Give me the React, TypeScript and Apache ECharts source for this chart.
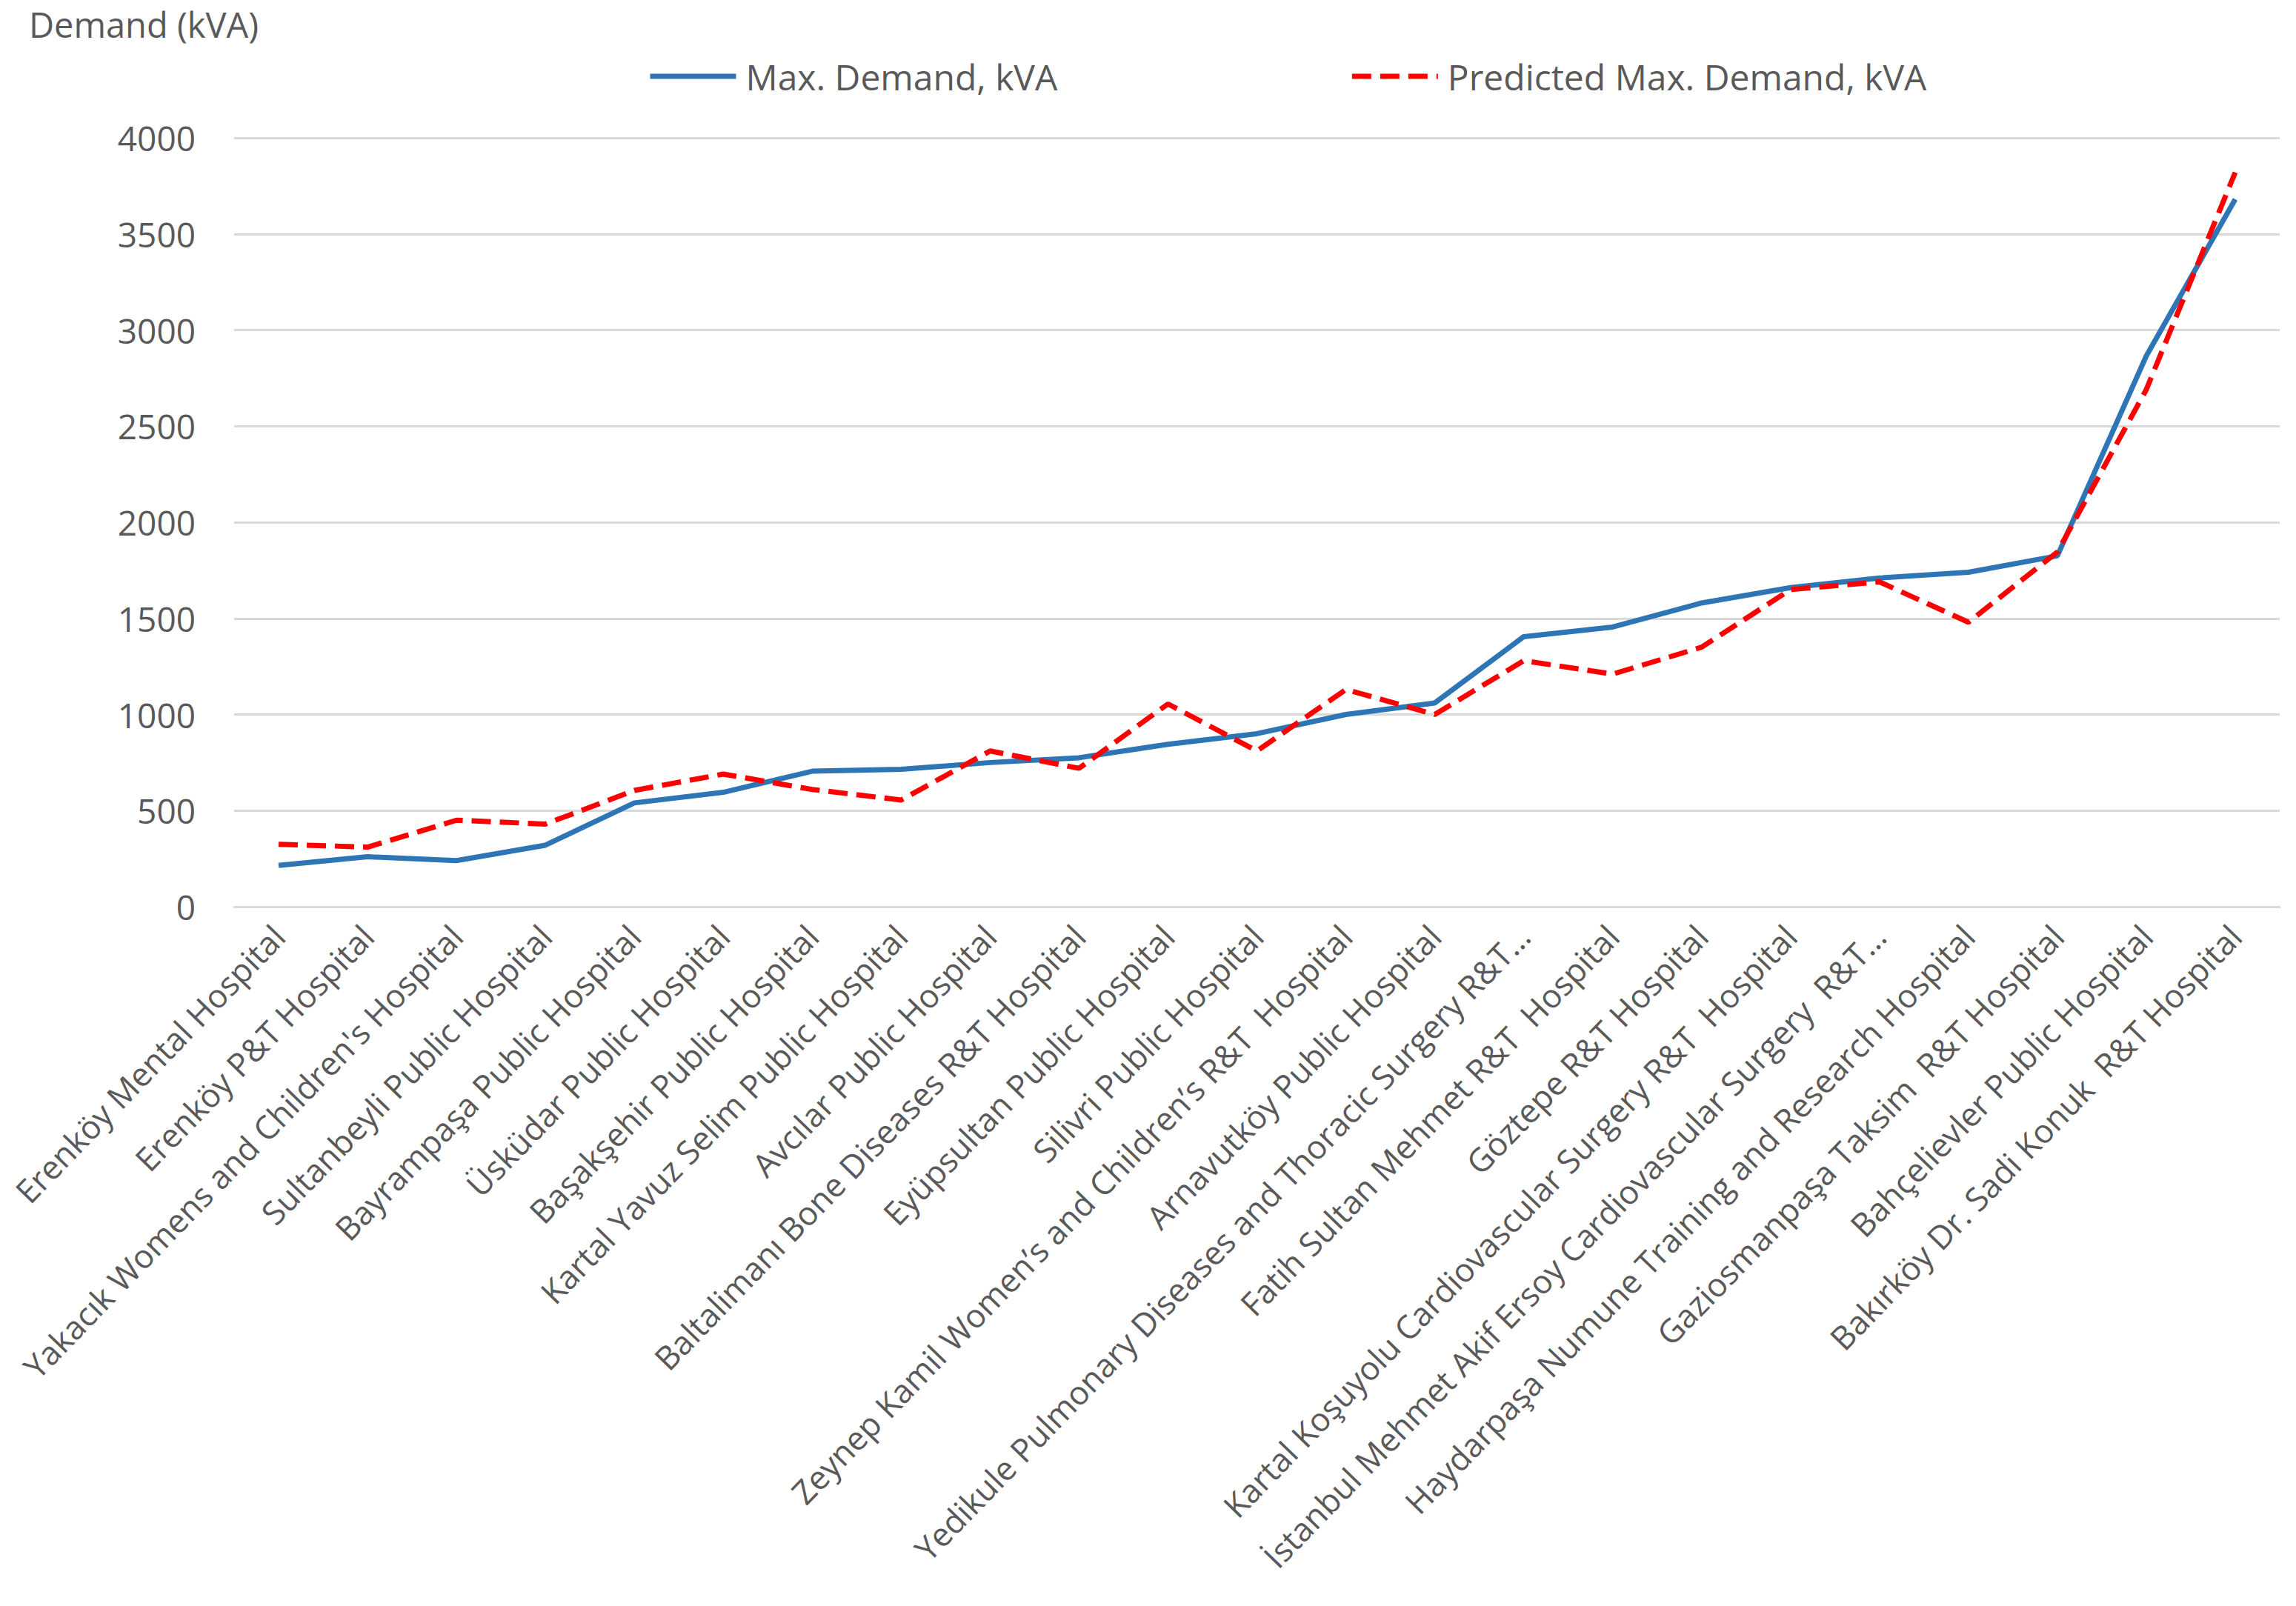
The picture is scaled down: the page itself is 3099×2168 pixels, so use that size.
import React, { useEffect, useRef } from "react";
import * as echarts from "echarts";

const categories: string[] = [
  "Erenköy Mental Hospital",
  "Erenköy P&T Hospital",
  "Yakacık Womens and Children's Hospital",
  "Sultanbeyli Public Hospital",
  "Bayrampaşa Public Hospital",
  "Üsküdar Public Hospital",
  "Başakşehir Public Hospital",
  "Kartal Yavuz Selim Public Hospital",
  "Avcılar Public Hospital",
  "Baltalimanı Bone Diseases R&T Hospital",
  "Eyüpsultan Public Hospital",
  "Silivri Public Hospital",
  "Zeynep Kamil Women’s and Children’s R&T  Hospital",
  "Arnavutköy Public Hospital",
  "Yedikule Pulmonary Diseases and Thoracic Surgery R&T…",
  "Fatih Sultan Mehmet R&T  Hospital",
  "Göztepe R&T Hospital",
  "Kartal Koşuyolu Cardiovascular Surgery R&T  Hospital",
  "İstanbul Mehmet Akif Ersoy Cardiovascular Surgery  R&T…",
  "Haydarpaşa Numune Training and Research Hospital",
  "Gaziosmanpaşa Taksim  R&T Hospital",
  "Bahçelievler Public Hospital",
  "Bakırköy Dr. Sadi Konuk  R&T Hospital",
];

const maxDemand: number[] = [
  215, 260, 240, 320, 540, 595, 705, 715, 750, 775, 845, 900, 1000, 1060, 1405,
  1455, 1580, 1660, 1710, 1740, 1825, 2865, 3680,
];

const predictedMaxDemand: number[] = [
  325, 310, 450, 430, 605, 690, 610, 555, 810, 720, 1055, 810, 1130, 1000, 1280,
  1210, 1350, 1650, 1690, 1480, 1845, 2690, 3820,
];

const seriesNames: string[] = ["Max. Demand, kVA", "Predicted Max. Demand, kVA"];
const yTitle = "Demand (kVA)";

const FONT = "'Open Sans', sans-serif";
const TEXT = "#595959";
const GRID = "#D9D9D9";

export default function App() {
  const ref = useRef<HTMLDivElement>(null);

  useEffect(() => {
    if (!ref.current) return;
    const chart = echarts.init(ref.current, undefined, { renderer: "svg" });
    chart.setOption({
      animation: false,
      backgroundColor: "#ffffff",
      textStyle: { fontFamily: FONT },
      title: {
        text: yTitle,
        left: 34,
        top: 4,
        textStyle: { fontFamily: FONT, fontSize: 47, fontWeight: "normal", color: TEXT },
      },
      legend: {
        left: 869,
        top: 74,
        itemGap: 394,
        itemWidth: 116,
        itemHeight: 20,
        itemStyle: { opacity: 0 },
        lineStyle: { width: 7 },
        textStyle: { fontFamily: FONT, fontSize: 48, color: TEXT, padding: [0, 0, 0, 8] },
        data: seriesNames,
      },
      grid: { left: 316, right: 22, top: 186, bottom: 944, containLabel: false },
      xAxis: {
        type: "category",
        data: categories,
        boundaryGap: true,
        axisLine: { show: true, lineStyle: { color: GRID, width: 3 } },
        axisTick: { show: false },
        axisLabel: {
          interval: 0,
          rotate: 46,
          margin: 32,
          fontFamily: FONT,
          fontSize: 44,
          color: TEXT,
        },
      },
      yAxis: {
        type: "value",
        min: 0,
        max: 4000,
        interval: 500,
        axisLine: { show: false },
        axisTick: { show: false },
        axisLabel: {
          fontFamily: FONT,
          fontSize: 46,
          color: TEXT,
          margin: 52,
          formatter: (v: number) => String(v),
        },
        splitLine: { show: true, lineStyle: { color: GRID, width: 3 } },
      },
      series: [
        {
          name: seriesNames[0],
          type: "line",
          data: maxDemand,
          symbol: "none",
          smooth: false,
          lineStyle: { color: "#2E75B6", width: 7 },
          itemStyle: { color: "#2E75B6" },
          z: 2,
        },
        {
          name: seriesNames[1],
          type: "line",
          data: predictedMaxDemand,
          symbol: "none",
          smooth: false,
          lineStyle: { color: "#FF0000", width: 7, type: [26, 12] },
          itemStyle: { color: "#FF0000" },
          z: 3,
        },
      ],
    });
    return () => chart.dispose();
  }, []);

  return (
    <div
      ref={ref}
      style={{ position: "fixed", left: 0, top: 0, width: 3099, height: 2168, background: "#fff" }}
    />
  );
}
